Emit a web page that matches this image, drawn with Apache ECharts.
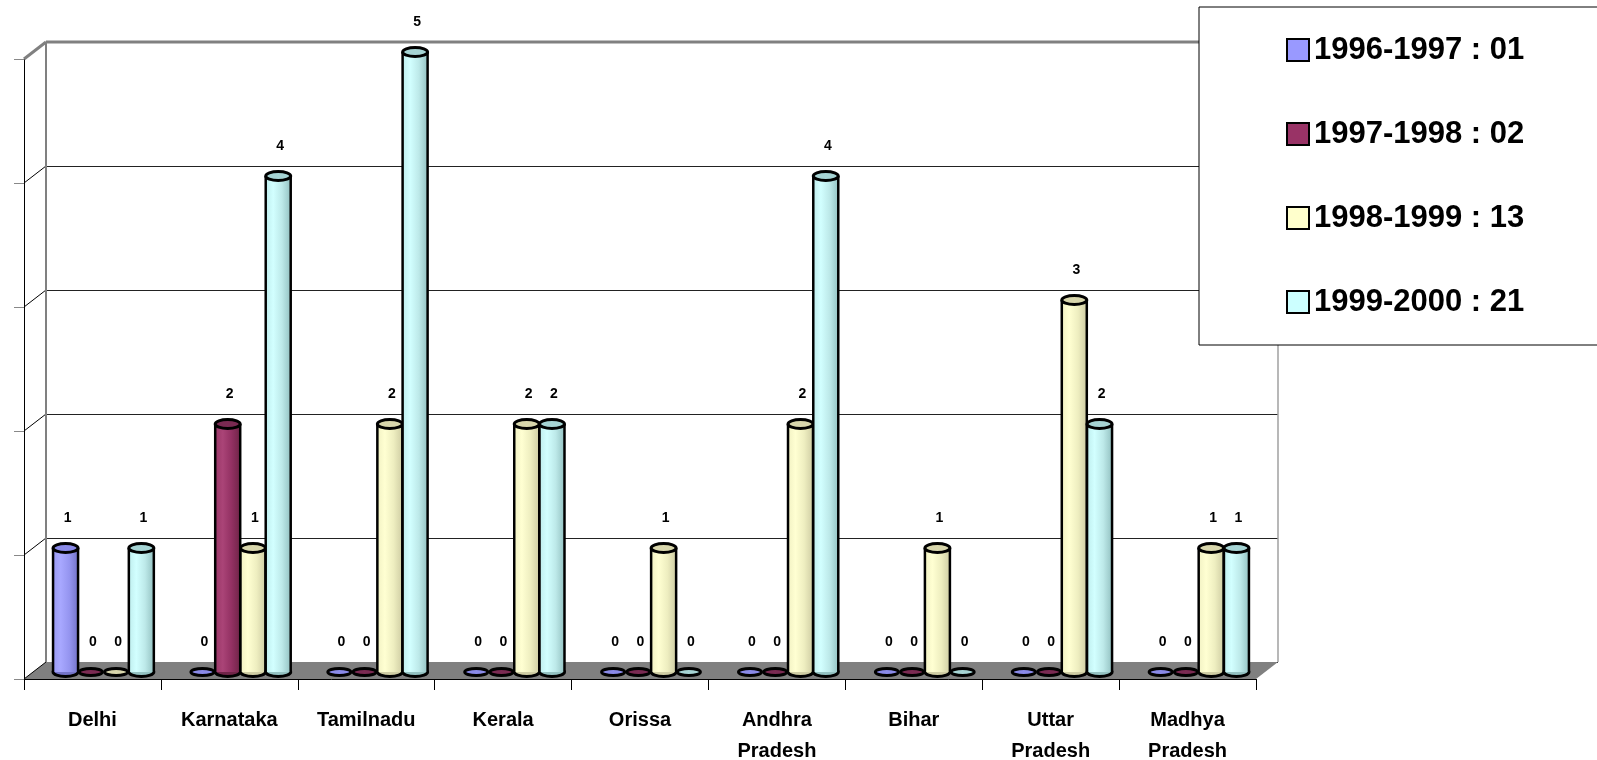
<!DOCTYPE html>
<html>
<head>
<meta charset="utf-8">
<script src="https://cdn.jsdelivr.net/npm/echarts@6/dist/echarts.min.js"></script>
<style>
  html, body { margin: 0; padding: 0; background: #fff; }
  #chart { width: 1597px; height: 760px; }
</style>
</head>
<body>
<div id="chart"></div>
<script>
// States and yearly counts
const categories = ['Delhi', 'Karnataka', 'Tamilnadu', 'Kerala', 'Orissa', 'Andhra\nPradesh', 'Bihar', 'Uttar\nPradesh', 'Madhya\nPradesh'];
const seriesNames = ['1996-1997 : 01', '1997-1998 : 02', '1998-1999 : 13', '1999-2000 : 21'];
const v1996_97 = [1, 0, 0, 0, 0, 0, 0, 0, 0];
const v1997_98 = [0, 2, 0, 0, 0, 0, 0, 0, 0];
const v1998_99 = [0, 1, 2, 2, 1, 2, 1, 3, 1];
const v1999_00 = [1, 4, 5, 2, 0, 4, 0, 2, 1];
const yTicks = [0, 1, 2, 3, 4, 5];

const seriesValues = [v1996_97, v1997_98, v1998_99, v1999_00];

// Base colours and cylinder shading (left light -> right dark)
const palette = [
  { base: '#9999FF', stops: ['#9a9af4', '#a8a8ff', '#9595f0', '#7474c8'], top: '#8a8ae8' },
  { base: '#993366', stops: ['#9a3868', '#aa4477', '#933163', '#702448'], top: '#7a2a52' },
  { base: '#FFFFCC', stops: ['#f2f2c4', '#ffffd2', '#eeeec0', '#cfcda4'], top: '#d8d6ac' },
  { base: '#CCFFFF', stops: ['#bfeeee', '#d2ffff', '#bde9e9', '#94c2c2'], top: '#a6d4d4' }
];

// Depth offsets of the pseudo-3D box (back plane -> front plane / bar plane)
const DEPTH_DX = -22, DEPTH_DY = 17;
const BAR_DX = -11, BAR_DY = 10;
const FONT = '"Liberation Sans", Arial, sans-serif';

const chart = echarts.init(document.getElementById('chart'), null, { renderer: 'canvas' });

function frameRender(params, api) {
  const cw = api.size([1, 0])[0];
  const c0 = api.coord([0, 0]);
  const left = c0[0] - cw / 2;
  const right = left + categories.length * cw;
  const y0 = c0[1];
  const yTop = api.coord([0, yTicks[yTicks.length - 1]])[1];
  const children = [];
  // floor
  children.push({
    type: 'polygon',
    shape: { points: [[left, y0], [right, y0], [right + DEPTH_DX, y0 + DEPTH_DY], [left + DEPTH_DX, y0 + DEPTH_DY]] },
    style: { fill: '#808080' }
  });
  // side wall grid lines
  yTicks.forEach(function (t) {
    const y = api.coord([0, t])[1];
    const isTop = t === yTicks[yTicks.length - 1];
    children.push({
      type: 'line',
      shape: { x1: left, y1: y, x2: left + DEPTH_DX, y2: y + DEPTH_DY },
      style: { stroke: isTop ? '#808080' : '#000', lineWidth: isTop ? 3 : 1 }
    });
  });
  // back wall edges
  children.push({
    type: 'line', shape: { x1: left, y1: yTop, x2: right, y2: yTop },
    style: { stroke: '#808080', lineWidth: 3 }
  });
  children.push({
    type: 'line', shape: { x1: left, y1: yTop, x2: left, y2: y0 },
    style: { stroke: '#808080', lineWidth: 2 }
  });
  children.push({
    type: 'line', shape: { x1: right, y1: yTop, x2: right, y2: y0 },
    style: { stroke: '#a0a0a0', lineWidth: 1.5 }
  });
  return { type: 'group', children: children };
}

function makeBarRender(si) {
  return function (params, api) {
    const cat = api.value(0);
    const val = api.value(1);
    const base = api.coord([cat, 0]);
    const top = api.coord([cat, val]);
    const cw = api.size([1, 0])[0];
    const pitch = cw * 0.1845;
    const bw = 25;
    const rx = bw / 2, ry = 4.5;
    const cx = base[0] + BAR_DX + (si - 1.5) * pitch;
    const by = base[1] + BAR_DY;
    const ty = top[1] + BAR_DY;
    const p = palette[si];
    const children = [];
    if (val > 0) {
      children.push({
        type: 'ellipse', shape: { cx: cx, cy: by, rx: rx, ry: ry },
        style: { fill: p.stops[3], stroke: '#000', lineWidth: 3 }
      });
      children.push({
        type: 'rect', shape: { x: cx - rx, y: ty, width: bw, height: by - ty },
        style: {
          fill: new echarts.graphic.LinearGradient(0, 0, 1, 0, [
            { offset: 0, color: p.stops[0] },
            { offset: 0.3, color: p.stops[1] },
            { offset: 0.65, color: p.stops[2] },
            { offset: 1, color: p.stops[3] }
          ])
        }
      });
      children.push({
        type: 'line', shape: { x1: cx - rx, y1: ty, x2: cx - rx, y2: by },
        style: { stroke: '#000', lineWidth: 2.5 }
      });
      children.push({
        type: 'line', shape: { x1: cx + rx, y1: ty, x2: cx + rx, y2: by },
        style: { stroke: '#000', lineWidth: 2.5 }
      });
      children.push({
        type: 'ellipse', shape: { cx: cx, cy: ty, rx: rx, ry: ry },
        style: { fill: p.top, stroke: '#000', lineWidth: 3 }
      });
    } else {
      children.push({
        type: 'ellipse', shape: { cx: cx, cy: by, rx: rx - 1, ry: ry - 1 },
        style: { fill: p.top, stroke: '#000', lineWidth: 3 }
      });
    }
    children.push({
      type: 'text',
      style: {
        x: cx + 2, y: ty - 30, text: String(val),
        fill: '#000', font: 'bold 14px ' + FONT,
        align: 'center', verticalAlign: 'middle'
      }
    });
    return { type: 'group', children: children };
  };
}

const series = [{
  type: 'custom',
  name: '__frame',
  xAxisIndex: 0, yAxisIndex: 0,
  renderItem: frameRender,
  data: [[0, 0]],
  silent: true,
  z: 1
}];

seriesValues.forEach(function (vals, si) {
  series.push({
    type: 'custom',
    name: seriesNames[si],
    xAxisIndex: 0, yAxisIndex: 0,
    itemStyle: { color: palette[si].base },
    renderItem: makeBarRender(si),
    data: vals.map(function (v, i) { return [i, v]; }),
    z: 3 + si
  });
});

chart.setOption({
  animation: false,
  backgroundColor: '#fff',
  grid: [
    { left: 46, top: 42, width: 1232, height: 620, outerBoundsMode: 'none', containLabel: false },
    { left: 24, top: 59, width: 1232, height: 620, outerBoundsMode: 'none', containLabel: false }
  ],
  xAxis: [
    {
      gridIndex: 0, type: 'category', data: categories,
      axisLine: { show: false }, axisTick: { show: false }, axisLabel: { show: false }
    },
    {
      gridIndex: 1, type: 'category', data: categories,
      axisLine: { show: true, lineStyle: { color: '#000', width: 1 } },
      axisTick: { show: true, length: 11, interval: 0, lineStyle: { color: '#000' } },
      axisLabel: {
        interval: 0, margin: 26, color: '#000',
        fontSize: 20, fontWeight: 'bold', fontFamily: FONT, lineHeight: 31
      }
    }
  ],
  yAxis: [
    {
      gridIndex: 0, type: 'value', min: 0, max: 5, interval: 1,
      axisLine: { show: false }, axisTick: { show: false }, axisLabel: { show: false },
      splitLine: { show: true, lineStyle: { color: '#222', width: 1 } }
    },
    {
      gridIndex: 1, type: 'value', min: 0, max: 5, interval: 1,
      axisLine: { show: true, lineStyle: { color: '#000', width: 1 } },
      axisTick: { show: true, length: 10, lineStyle: { color: '#888' } },
      axisLabel: { show: false },
      splitLine: { show: false }
    }
  ],
  legend: {
    data: seriesNames,
    orient: 'vertical',
    left: 1199, top: 7,
    padding: [25, 90, 25, 87],
    backgroundColor: '#fff',
    borderColor: '#000', borderWidth: 1,
    icon: 'rect',
    itemWidth: 22, itemHeight: 22, itemGap: 48,
    itemStyle: { borderColor: '#000', borderWidth: 2 },
    textStyle: { fontSize: 31, fontWeight: 'bold', fontFamily: FONT, color: '#000', lineHeight: 36 },
    selectedMode: false,
    z: 10
  },
  series: series
});
</script>
</body>
</html>
